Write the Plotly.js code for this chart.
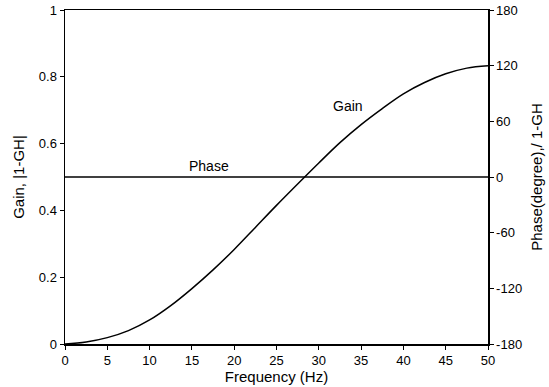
<!DOCTYPE html>
<html>
<head>
<meta charset="utf-8">
<script src="https://cdn.plot.ly/plotly-3.0.1.min.js"></script>
<style>html,body{margin:0;padding:0;background:#fff;}#chart{width:549px;height:387px;}</style>
</head>
<body>
<div id="chart"></div>
<script>
var frequency = [0, 2.5, 5, 7.5, 10, 12.5, 15, 17.5, 20, 22.5, 25, 27.5, 30, 32.5, 35, 37.5, 40, 42.5, 45, 47.5, 50];
var gain = [0, 0.006, 0.019, 0.04, 0.072, 0.115, 0.166, 0.222, 0.283, 0.349, 0.415, 0.479, 0.542, 0.603, 0.657, 0.705, 0.749, 0.783, 0.809, 0.826, 0.833];
var phase = [0, 0, 0, 0, 0, 0, 0, 0, 0, 0, 0, 0, 0, 0, 0, 0, 0, 0, 0, 0, 0];
var xTicks = [0, 5, 10, 15, 20, 25, 30, 35, 40, 45, 50];
var gainTicks = [0, 0.2, 0.4, 0.6, 0.8, 1];
var gainTickText = ["0", "0.2", "0.4", "0.6", "0.8", "1"];
var phaseTicks = [-180, -120, -60, 0, 60, 120, 180];
var phaseTickText = ["-180", "-120", "-60", "0", "60", "120", "180"];

var tickFont = {family: "Liberation Sans, Arial, sans-serif", size: 13, color: "#000"};
var titleFont = {family: "Liberation Sans, Arial, sans-serif", size: 15, color: "#000"};
var noteFont = {family: "Liberation Sans, Arial, sans-serif", size: 14, color: "#000"};

var traces = [
  {x: frequency, y: gain, type: "scatter", mode: "lines", line: {color: "#000", width: 1.5, shape: "spline", smoothing: 1}, name: "Gain", yaxis: "y"},
  {x: frequency, y: phase, type: "scatter", mode: "lines", line: {color: "#000", width: 1.5}, name: "Phase", yaxis: "y2"}
];

var layout = {
  width: 549, height: 387,
  margin: {l: 65, r: 61, t: 10, b: 43},
  paper_bgcolor: "#fff", plot_bgcolor: "#fff",
  showlegend: false,
  font: tickFont,
  xaxis: {
    range: [0, 50], tickvals: xTicks, ticktext: xTicks.map(String),
    showgrid: false, zeroline: false, showline: true, linecolor: "#000", linewidth: 1.5,
    mirror: true, ticks: "outside", ticklen: 4, tickcolor: "#000",
    tickfont: tickFont,
    title: {text: "Frequency (Hz)", font: titleFont, standoff: 2}
  },
  yaxis: {
    range: [0, 1], tickvals: gainTicks, ticktext: gainTickText,
    showgrid: false, zeroline: false, showline: true, linecolor: "#000", linewidth: 1.5,
    ticks: "outside", ticklen: 4, tickcolor: "#000",
    tickfont: tickFont,
    title: {text: "Gain, |1-GH|", font: titleFont, standoff: 10}
  },
  yaxis2: {
    overlaying: "y", side: "right",
    range: [-180, 180], tickvals: phaseTicks, ticktext: phaseTickText,
    showgrid: false, zeroline: false, showline: true, linecolor: "#000", linewidth: 1.5,
    ticks: "outside", ticklen: 4, tickcolor: "#000",
    tickfont: tickFont,
    title: {text: "Phase(degree),/ 1-GH", font: titleFont, standoff: 10}
  },
  annotations: [
    {x: 33.45, y: 0.713, xref: "x", yref: "y", text: "Gain", showarrow: false, font: noteFont},
    {x: 17.0, y: 0.533, xref: "x", yref: "y", text: "Phase", showarrow: false, font: noteFont}
  ]
};

Plotly.newPlot("chart", traces, layout, {staticPlot: true, displayModeBar: false});
</script>
</body>
</html>
